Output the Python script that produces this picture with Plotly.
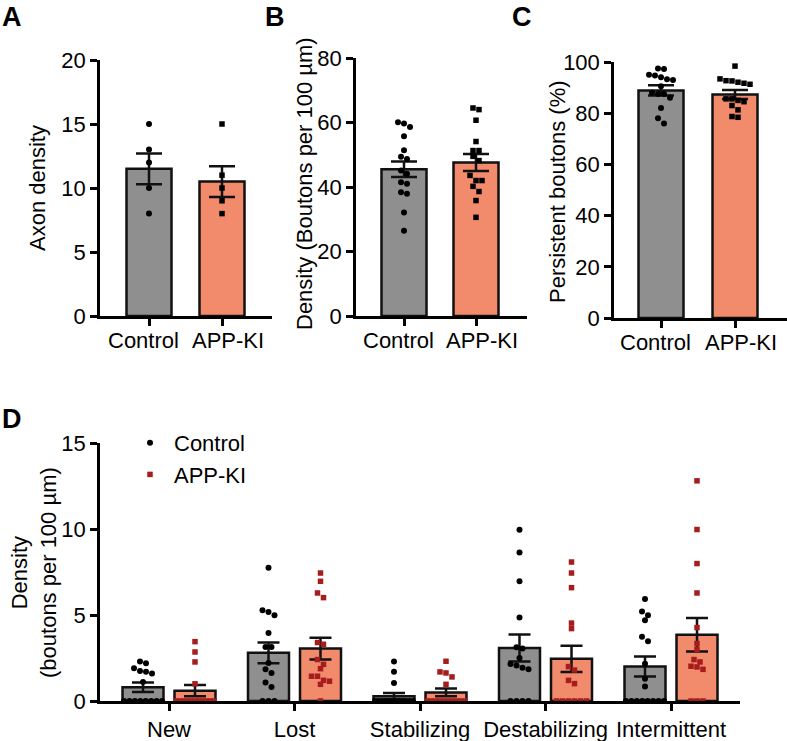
import numpy as np
import plotly.graph_objects as go

W, H = 787, 741
FONT = "Arial, Liberation Sans, sans-serif"
GRAY = "#8f8f8f"
SALMON = "#f28a6c"
RED = "#a51d1d"

# ---------------- data ----------------
groups = ["Control", "APP-KI"]

A_ctrl = [15, 13, 12, 10, 8]
A_app = [15, 11, 10, 9, 8]
A_mean = [11.5, 10.5]
A_sem = [1.2, 1.2]

B_ctrl = [58.6, 59.7, 60.1, 55.7, 51.4, 49.4, 48.7, 44.1, 45.1, 41.5, 41.0, 37.9, 38.4, 32.1, 26.4]
B_app = [64.5, 64.0, 60.7, 54.1, 51.3, 51.3, 49.5, 48.2, 43.6, 42.0, 42.0, 40.2, 38.6, 35.8, 30.6]
B_mean = [45.5, 47.6]
B_sem = [2.4, 2.6]

C_ctrl = [97.5, 97.3, 95.0, 94.7, 94.0, 93.3, 93.0, 90.5, 88.0, 87.5, 87.5, 86.0, 82.0, 78.0, 76.0]
C_app = [98.4, 93.4, 91.3, 92.6, 92.7, 91.7, 92.1, 85.6, 84.5, 85.0, 85.6, 81.3, 78.4, 78.7, 83.0]
C_mean = [88.9, 87.3]
C_sem = [2.0, 1.8]

D_categories = ["New", "Lost", "Stabilizing", "Destabilizing", "Intermittent"]
D_ctrl_mean = [0.8, 2.8, 0.27, 3.08, 2.0]
D_ctrl_sem = [0.28, 0.6, 0.2, 0.78, 0.58]
D_app_mean = [0.6, 3.05, 0.5, 2.45, 3.85]
D_app_sem = [0.33, 0.63, 0.22, 0.76, 0.97]

D_ctrl_points = [
    [2.3, 2.2, 1.9, 1.75, 1.7, 1.6, 1.1, 0, 0, 0, 0, 0, 0, 0, 0],
    [7.75, 5.27, 5.17, 4.98, 3.95, 3.14, 3.14, 2.21, 1.84, 1.63, 1.07, 0.82, 0, 0, 0],
    [2.3, 1.7, 1.05, 0, 0, 0, 0, 0, 0, 0, 0, 0, 0, 0, 0],
    [9.96, 8.63, 6.96, 4.85, 3.12, 3.05, 2.5, 2.15, 2.07, 1.94, 1.84, 0, 0, 0, 0],
    [5.93, 5.2, 4.98, 4.69, 3.74, 3.48, 2.17, 1.3, 0.85, 0, 0, 0, 0, 0, 0, 0, 0],
]
D_app_points = [
    [3.45, 2.85, 2.27, 1.0, 0, 0, 0, 0, 0, 0, 0, 0, 0, 0, 0],
    [7.44, 6.96, 6.28, 6.01, 3.4, 3.3, 2.41, 2.13, 1.88, 1.44, 1.44, 1.2, 1.15, 0.97, 0],
    [2.31, 1.69, 1.63, 1.4, 0.97, 0, 0, 0, 0, 0, 0, 0, 0, 0, 0],
    [8.08, 7.44, 6.59, 4.53, 4.21, 2.0, 1.8, 1.2, 1.01, 0, 0, 0, 0, 0, 0],
    [12.8, 9.97, 7.99, 6.28, 4.27, 3.34, 3.0, 2.41, 2.27, 2.02, 1.98, 1.84, 0, 0, 0],
]

# ---------------- layout helpers ----------------
def px_x(p):
    return p / W


def px_y(p):
    return 1 - p / H


def cat_range(left_px, right_px, t0_px, t1_px):
    unit = t1_px - t0_px
    return [(left_px - t0_px) / unit, (right_px - t0_px) / unit], unit


def swarm(values, dx, dy, max_off):
    vals = np.asarray(values, float)
    order = np.argsort(-vals, kind="stable")
    offs = np.zeros(len(vals))
    rows = []
    for i in order:
        if rows and rows[-1][0] - vals[i] < dy * 0.9:
            rows[-1][1].append(i)
        else:
            rows.append([vals[i], [i]])
    for _, idx in rows:
        n = len(idx)
        if n == 1:
            continue
        sp = min(dx, 2 * max_off / (n - 1))
        for k, i in enumerate(idx):
            offs[i] = (k - (n - 1) / 2) * sp
    return offs


MK = 6.0  # marker diameter px

panels = {
    # name: (x left px, x right px, tick0 px, tick1 px, y bottom px, y top px, ymax, dtick)
    "A": (100, 272, 149, 222, 316, 60, 20, 5),
    "B": (356, 527, 404, 476, 316, 58, 80, 20),
    "C": (614, 787, 661, 735, 318, 62, 100, 20),
}

fig = go.Figure()
layout = dict(
    width=W, height=H, margin=dict(l=0, r=0, t=0, b=0, pad=0, autoexpand=False),
    autosize=False,
    paper_bgcolor="white", plot_bgcolor="white",
    font=dict(family=FONT, size=22, color="black"),
    barmode="overlay", showlegend=True,
)

axis_style = dict(showgrid=False, zeroline=False, showline=True, linecolor="black",
                  linewidth=2.5, ticks="outside", ticklen=7, tickwidth=2.5,
                  tickcolor="black", tickangle=0, automargin=False,
                  tickfont=dict(size=22, family=FONT, color="black"))

panel_data = {
    "A": (A_ctrl, A_app, A_mean, A_sem),
    "B": (B_ctrl, B_app, B_mean, B_sem),
    "C": (C_ctrl, C_app, C_mean, C_sem),
}

ann = []
for k, name in enumerate(["A", "B", "C"], start=1):
    xl, xr, t0, t1, yb, yt, ymax, dt = panels[name]
    xrng, unit = cat_range(xl, xr, t0, t1)
    ypx = (yb - yt) / ymax
    xa = "x" if k == 1 else f"x{k}"
    ya = "y" if k == 1 else f"y{k}"
    ctrl, app, mean, sem = panel_data[name]
    barw = 45 / unit
    fig.add_trace(go.Bar(
        x=[0, 1], y=mean, width=barw, xaxis=xa, yaxis=ya, showlegend=False,
        marker=dict(color=[GRAY, SALMON], line=dict(color="#111", width=2.5)),
        error_y=dict(type="data", array=sem, visible=True, color="#111",
                     thickness=2.5, width=13),
    ))
    for gi, (vals, sym) in enumerate([(ctrl, "circle"), (app, "square")]):
        offs = swarm(vals, MK / unit, MK / ypx, 20 / unit)
        fig.add_trace(go.Scatter(
            x=gi + offs, y=vals, mode="markers", xaxis=xa, yaxis=ya, showlegend=False,
            marker=dict(symbol=sym, size=MK if sym == "circle" else MK - 0.5,
                        color="black", line=dict(width=0)),
        ))
    layout["xaxis" if k == 1 else f"xaxis{k}"] = dict(
        axis_style, domain=[px_x(xl), px_x(xr)], range=xrng, anchor=ya,
        tickmode="array", tickvals=[0, 1], showticklabels=False)
    layout["yaxis" if k == 1 else f"yaxis{k}"] = dict(
        axis_style, domain=[px_y(yb), px_y(yt)], range=[0, ymax], anchor=xa,
        tickmode="linear", tick0=0, dtick=dt)
    # category labels, nudged apart like the original
    for gi, g in enumerate(groups):
        ann.append(dict(text=g, x=gi + (-6 if gi == 0 else 6) / unit, xref=xa,
                        y=px_y(yb + 24), yref="paper", xanchor="center", yanchor="middle",
                        showarrow=False, font=dict(size=22, family=FONT, color="black")))

# ---- panel D ----
xl, xr, t0, t1, yb, yt, ymax = 100, 740, 169, 294.5, 701, 443, 15
xrng, unit = cat_range(xl, xr, t0, t1)
ypx = (yb - yt) / ymax
off = 26 / unit
barw = 41 / unit
cat_idx = np.arange(len(D_categories))

fig.add_trace(go.Bar(
    x=cat_idx - off, y=D_ctrl_mean, width=barw, xaxis="x4", yaxis="y4", showlegend=False,
    marker=dict(color=GRAY, line=dict(color="#111", width=2.5)),
    error_y=dict(type="data", array=D_ctrl_sem, visible=True, color="#111",
                 thickness=2.5, width=11),
))
fig.add_trace(go.Bar(
    x=cat_idx + off, y=D_app_mean, width=barw, xaxis="x4", yaxis="y4", showlegend=False,
    marker=dict(color=SALMON, line=dict(color="#111", width=2.5)),
    error_y=dict(type="data", array=D_app_sem, visible=True, color="#111",
                 thickness=2.5, width=11),
))

for label, pts, sign, sym, col in [("Control", D_ctrl_points, -1, "circle", "black"),
                                   ("APP-KI", D_app_points, 1, "square", RED)]:
    xs, ys = [], []
    for ci, vals in enumerate(pts):
        offs = swarm(vals, MK / unit, MK / ypx, 19 / unit)
        xs.extend(list(ci + sign * off + offs))
        ys.extend(vals)
    fig.add_trace(go.Scatter(
        x=xs, y=ys, mode="markers", xaxis="x4", yaxis="y4", name=label, showlegend=True,
        marker=dict(symbol=sym, size=MK if sym == "circle" else MK - 0.5,
                    color=col, line=dict(width=0)),
    ))

layout["xaxis4"] = dict(axis_style, domain=[px_x(xl), px_x(xr)], range=xrng, anchor="y4",
                        tickmode="array", tickvals=list(cat_idx), ticktext=D_categories)
layout["yaxis4"] = dict(axis_style, domain=[px_y(yb), px_y(yt)], range=[0, ymax], anchor="x4",
                        tickmode="linear", tick0=0, dtick=5)

layout["legend"] = dict(x=px_x(126), y=px_y(422), xanchor="left", yanchor="top",
                        font=dict(size=22, family=FONT, color="black"),
                        bgcolor="rgba(0,0,0,0)", itemwidth=38, tracegroupgap=4)

for txt, x, y in [("A", 0, 0), ("B", 263, 0), ("C", 510, 0), ("D", 0, 402)]:
    ann.append(dict(text=f"<b>{txt}</b>", x=px_x(x), y=px_y(y), xref="paper", yref="paper",
                    xanchor="left", yanchor="top", showarrow=False,
                    font=dict(size=27, family=FONT, color="black")))
for txt, x, y in [("Axon density", 38, 188),
                  ("Density (Boutons per 100 µm)", 304, 184),
                  ("Persistent boutons (%)", 557, 192),
                  ("Density<br>(boutons per 100 µm)", 34, 573)]:
    ann.append(dict(text=txt, x=px_x(x), y=px_y(y), xref="paper", yref="paper",
                    xanchor="center", yanchor="middle", textangle=-90, showarrow=False,
                    font=dict(size=22, family=FONT, color="black")))
layout["annotations"] = ann

fig.update_layout(**layout)
fig.write_html("out.html", config={"displayModeBar": False},
               post_script="document.body.style.margin='0px';document.body.style.overflow='hidden';")
